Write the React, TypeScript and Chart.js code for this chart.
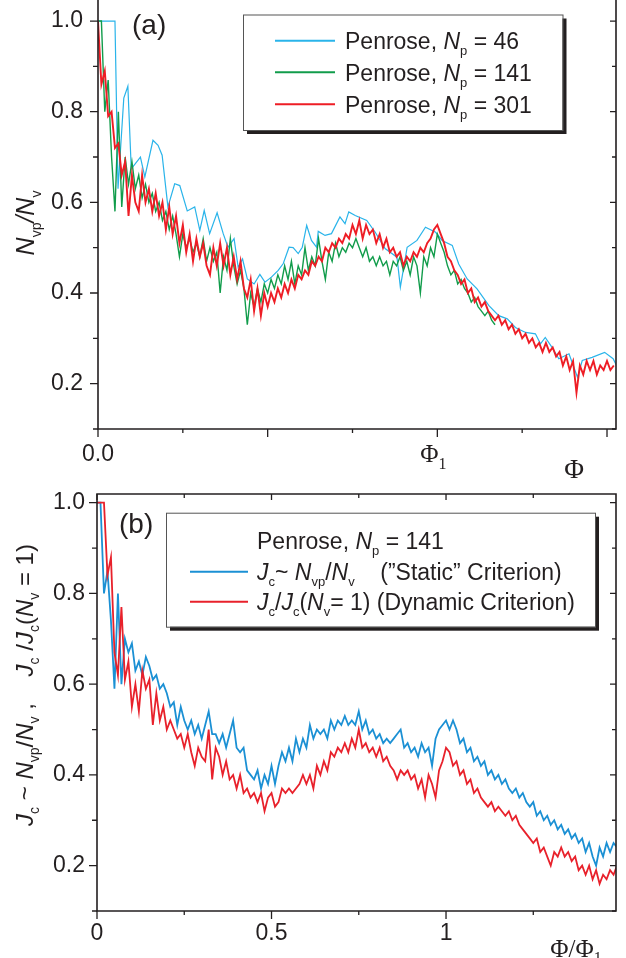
import React, { useEffect, useRef } from 'react';
import { Chart, registerables } from 'chart.js';

Chart.register(...registerables);

// ---------------- data ----------------
const STEP = 0.01; // sampling grid of the dense series (in units of Phi/Phi1)

// Panel (a): N_vp/N_v vs Phi
const redA_301 = [
  1.0, 0.86, 0.89, 0.79, 0.80, 0.72, 0.73, 0.66, 0.69, 0.57,
  0.66, 0.60, 0.58, 0.66, 0.60, 0.63, 0.58, 0.62, 0.57, 0.60,
  0.54, 0.59, 0.53, 0.57, 0.51, 0.55, 0.49, 0.53, 0.47, 0.52,
  0.48, 0.51, 0.46, 0.44, 0.50, 0.46, 0.51, 0.46, 0.50, 0.44,
  0.48, 0.43, 0.47, 0.41, 0.39, 0.43, 0.36, 0.41, 0.35, 0.40,
  0.37, 0.40, 0.38, 0.41, 0.39, 0.42, 0.40, 0.43, 0.41, 0.44,
  0.43, 0.45, 0.44, 0.47, 0.46, 0.48, 0.47, 0.50, 0.49, 0.51,
  0.50, 0.52, 0.51, 0.53, 0.52, 0.55, 0.53, 0.56, 0.52, 0.55,
  0.53, 0.54, 0.51, 0.53, 0.50, 0.52, 0.49, 0.50, 0.48, 0.49,
  0.46, 0.48, 0.47, 0.49, 0.48, 0.50, 0.49, 0.51, 0.52, 0.54,
  0.55, 0.53, 0.51, 0.48, 0.47, 0.45, 0.44, 0.42, 0.43, 0.40,
  0.41, 0.38, 0.39, 0.37, 0.38, 0.36, 0.35, 0.34, 0.35, 0.33,
  0.34, 0.32, 0.33, 0.31, 0.32, 0.30, 0.31, 0.29, 0.30, 0.28,
  0.29, 0.27, 0.29, 0.27, 0.28, 0.26, 0.27, 0.24, 0.26, 0.23,
  0.25, 0.18, 0.24, 0.22, 0.25, 0.23, 0.25, 0.22, 0.24, 0.23,
  0.25, 0.23, 0.24,
];

const greenA_141 = [
  1.0, 1.0, 0.80, 0.87, 0.70, 0.58, 0.80, 0.59, 0.70, 0.64,
  0.69, 0.63, 0.66, 0.61, 0.64, 0.60, 0.62, 0.58, 0.60, 0.56,
  0.58, 0.54, 0.57, 0.53, 0.48, 0.53, 0.50, 0.52, 0.49, 0.51,
  0.48, 0.52, 0.47, 0.50, 0.47, 0.49, 0.40, 0.48, 0.45, 0.52,
  0.46, 0.42, 0.45, 0.41, 0.33, 0.40, 0.37, 0.41, 0.38, 0.42,
  0.40, 0.43, 0.41, 0.44, 0.42, 0.46, 0.43, 0.47, 0.42, 0.46,
  0.44, 0.50, 0.45, 0.48, 0.46, 0.52, 0.47, 0.43, 0.49, 0.47,
  0.51, 0.48, 0.50, 0.49, 0.51, 0.50, 0.52, 0.50, 0.48, 0.50,
  0.47, 0.48, 0.46, 0.48, 0.46, 0.47, 0.44, 0.47, 0.46, 0.48,
  0.45, 0.47, 0.44, 0.48, 0.46, 0.40, 0.48, 0.46, 0.50, 0.48,
  0.53, 0.51, 0.49, 0.46, 0.44, 0.45, 0.42, 0.43, 0.41, 0.40,
  0.38, 0.39, 0.37, 0.36, 0.35, 0.36, 0.34, 0.33,
];

const blueA_46_phi = [
  0, 0.05, 0.059, 0.076, 0.088, 0.098, 0.125, 0.138, 0.162, 0.177,
  0.189, 0.206, 0.226, 0.241, 0.263, 0.285, 0.300, 0.313, 0.329, 0.351,
  0.369, 0.383, 0.401, 0.413, 0.426, 0.440, 0.460, 0.477, 0.492, 0.511,
  0.531, 0.546, 0.563, 0.575, 0.590, 0.602, 0.615, 0.629, 0.644, 0.649,
  0.669, 0.688, 0.713, 0.728, 0.739, 0.758, 0.792, 0.817, 0.846, 0.881,
  0.891, 0.911, 0.940, 0.965, 0.995, 1.014, 1.044, 1.063, 1.088, 1.117,
  1.152, 1.181, 1.206, 1.230, 1.260, 1.289, 1.304, 1.318, 1.338, 1.358,
  1.388, 1.413, 1.427, 1.456, 1.493, 1.518, 1.531,
];
const blueA_46 = [
  1.0, 1.0, 0.63, 0.83, 0.856, 0.674, 0.70, 0.656, 0.737, 0.726,
  0.704, 0.59, 0.641, 0.637, 0.581, 0.59, 0.538, 0.582, 0.531, 0.577,
  0.531, 0.501, 0.52, 0.457, 0.475, 0.431, 0.42, 0.441, 0.424, 0.435,
  0.45, 0.465, 0.501, 0.50, 0.487, 0.501, 0.549, 0.516, 0.501, 0.536,
  0.527, 0.531, 0.568, 0.553, 0.579, 0.571, 0.56, 0.534, 0.498, 0.479,
  0.413, 0.501, 0.516, 0.545, 0.534, 0.516, 0.505, 0.464, 0.431, 0.409,
  0.372, 0.35, 0.343, 0.324, 0.313, 0.31, 0.288, 0.302, 0.28, 0.255,
  0.266, 0.214, 0.251, 0.258, 0.269, 0.255, 0.236,
];

// Panel (b): J_c estimates vs Phi/Phi1, Penrose N_p = 141
const blueB_static = [
  1.0, 1.0, 0.80, 0.85, 0.74, 0.59, 0.80, 0.60, 0.70, 0.67,
  0.69, 0.63, 0.65, 0.62, 0.66, 0.64, 0.61, 0.62, 0.59, 0.60,
  0.58, 0.55, 0.56, 0.51, 0.55, 0.52, 0.50, 0.52, 0.49, 0.51,
  0.48, 0.51, 0.54, 0.49, 0.49, 0.47, 0.49, 0.46, 0.49, 0.52,
  0.46, 0.45, 0.46, 0.41, 0.40, 0.39, 0.41, 0.37, 0.40, 0.38,
  0.42, 0.38, 0.42, 0.45, 0.43, 0.46, 0.43, 0.48, 0.45, 0.48,
  0.46, 0.51, 0.48, 0.50, 0.49, 0.50, 0.48, 0.52, 0.50, 0.52,
  0.51, 0.53, 0.51, 0.52, 0.51, 0.54, 0.50, 0.52, 0.49, 0.50,
  0.48, 0.49, 0.47, 0.48, 0.47, 0.48, 0.49, 0.50, 0.46, 0.47,
  0.45, 0.46, 0.44, 0.47, 0.45, 0.46, 0.42, 0.48, 0.50, 0.51,
  0.52, 0.50, 0.52, 0.50, 0.47, 0.48, 0.45, 0.46, 0.43, 0.44,
  0.42, 0.43, 0.40, 0.41, 0.39, 0.40, 0.38, 0.39, 0.37, 0.36,
  0.37, 0.35, 0.36, 0.34, 0.33, 0.34, 0.31, 0.32, 0.30, 0.31,
  0.29, 0.30, 0.28, 0.29, 0.27, 0.28, 0.26, 0.27, 0.25, 0.26,
  0.23, 0.25, 0.22, 0.20, 0.24, 0.22, 0.25, 0.23, 0.25, 0.24,
];

const redB_dynamic = [
  1.0, 1.0, 1.0, 0.84, 0.88, 0.67, 0.62, 0.77, 0.61, 0.65,
  0.55, 0.60, 0.54, 0.63, 0.59, 0.61, 0.51, 0.58, 0.52, 0.55,
  0.50, 0.52, 0.50, 0.48, 0.49, 0.46, 0.49, 0.45, 0.42, 0.46,
  0.44, 0.43, 0.50, 0.39, 0.46, 0.44, 0.40, 0.43, 0.39, 0.40,
  0.37, 0.40, 0.36, 0.37, 0.35, 0.36, 0.34, 0.36, 0.32, 0.35,
  0.36, 0.33, 0.34, 0.37, 0.36, 0.37, 0.36, 0.37, 0.38, 0.40,
  0.38, 0.40, 0.37, 0.42, 0.40, 0.43, 0.41, 0.45, 0.44, 0.46,
  0.45, 0.47, 0.45, 0.48, 0.46, 0.50, 0.46, 0.47, 0.45, 0.46,
  0.44, 0.46, 0.43, 0.44, 0.42, 0.41, 0.39, 0.41, 0.40, 0.41,
  0.39, 0.40, 0.37, 0.39, 0.35, 0.40, 0.38, 0.35, 0.41, 0.43,
  0.46, 0.45, 0.42, 0.43, 0.40, 0.41, 0.38, 0.39, 0.36, 0.37,
  0.35, 0.34, 0.33, 0.34, 0.32, 0.33, 0.32, 0.31, 0.32, 0.30,
  0.31, 0.29, 0.28, 0.27, 0.26, 0.25, 0.26, 0.23, 0.24, 0.22,
  0.20, 0.23, 0.22, 0.24, 0.22, 0.23, 0.21, 0.22, 0.19, 0.20,
  0.18, 0.20, 0.17, 0.19, 0.16, 0.18, 0.17, 0.19, 0.18, 0.20,
];

// ticks
const Y_TICKS = [0.1, 0.2, 0.3, 0.4, 0.5, 0.6, 0.7, 0.8, 0.9, 1.0];
const Y_LABELS: Record<string, string> = { '0.2': '0.2', '0.4': '0.4', '0.6': '0.6', '0.8': '0.8', '1': '1.0' };
const X_TICKS_A = [0, 0.25, 0.5, 0.75, 1, 1.25, 1.5];
const X_LABELS_A: Record<string, string> = { '0': '0.0' };
const X_TICKS_B = [0, 0.25, 0.5, 0.75, 1, 1.25];
const X_LABELS_B: Record<string, string> = { '0': '0', '0.5': '0.5', '1': '1' };

// ---------------- style ----------------
const SANS = '"Liberation Sans", Arial, Helvetica, sans-serif';
const SERIF = '"Liberation Serif", "Times New Roman", serif';
const INK = '#231f20';

type Seg = { t: string; i?: boolean; s?: boolean };

const LEGEND_A: Seg[][] = [
  [{ t: 'Penrose, ' }, { t: 'N', i: true }, { t: 'p', s: true }, { t: ' = 46' }],
  [{ t: 'Penrose, ' }, { t: 'N', i: true }, { t: 'p', s: true }, { t: ' = 141' }],
  [{ t: 'Penrose, ' }, { t: 'N', i: true }, { t: 'p', s: true }, { t: ' = 301' }],
];
const LEGEND_B_TITLE: Seg[] = [{ t: 'Penrose, ' }, { t: 'N', i: true }, { t: 'p', s: true }, { t: ' = 141' }];
const LEGEND_B: Seg[][] = [
  [{ t: 'J', i: true }, { t: 'c', s: true }, { t: '~ ' }, { t: 'N', i: true }, { t: 'vp', s: true }, { t: '/' }, { t: 'N', i: true }, { t: 'v', s: true }, { t: '    (\u201DStatic\u201D Criterion)' }],
  [{ t: 'J', i: true }, { t: 'c', s: true }, { t: '/' }, { t: 'J', i: true }, { t: 'c', s: true }, { t: '(' }, { t: 'N', i: true }, { t: 'v', s: true }, { t: '= 1) (Dynamic Criterion)' }],
];
const YTITLE_A: Seg[] = [{ t: 'N', i: true }, { t: 'vp', s: true }, { t: '/', i: true }, { t: 'N', i: true }, { t: 'v', s: true }];
const YTITLE_B: Seg[] = [
  { t: 'J', i: true }, { t: 'c', s: true }, { t: ' ~ ' }, { t: 'N', i: true }, { t: 'vp', s: true }, { t: '/' }, { t: 'N', i: true }, { t: 'v', s: true },
  { t: ' ,    ' }, { t: 'J', i: true }, { t: 'c', s: true }, { t: ' /' }, { t: 'J', i: true }, { t: 'c', s: true }, { t: '(' }, { t: 'N', i: true }, { t: 'v', s: true }, { t: ' = 1)' },
];

function drawRich(ctx: CanvasRenderingContext2D, segs: Seg[], x: number, y: number, size: number, family: string, align: 'left' | 'center' = 'left', subRatio = 0.58) {
  const sub = Math.round(size * subRatio);
  const fonts = segs.map((g) => `${g.i ? 'italic ' : ''}${g.s ? sub : size}px ${family}`);
  let total = 0;
  const widths = segs.map((g, k) => {
    ctx.font = fonts[k];
    const w = ctx.measureText(g.t).width;
    total += w;
    return w;
  });
  let cx = align === 'center' ? x - total / 2 : x;
  ctx.textAlign = 'left';
  ctx.textBaseline = 'alphabetic';
  segs.forEach((g, k) => {
    ctx.font = fonts[k];
    ctx.fillText(g.t, cx, g.s ? y + size * 0.27 : y);
    cx += widths[k];
  });
}

function drawFrame(chart: any, withTop: boolean) {
  const { ctx, chartArea: a, scales } = chart;
  const xs = scales.x, ys = scales.y;
  ctx.save();
  ctx.strokeStyle = INK;
  ctx.lineWidth = 1.6;
  ctx.beginPath();
  if (withTop) {
    ctx.rect(a.left, a.top, a.right - a.left, a.bottom - a.top);
  } else {
    ctx.moveTo(a.left, a.top);
    ctx.lineTo(a.left, a.bottom);
    ctx.lineTo(a.right, a.bottom);
    ctx.lineTo(a.right, a.top);
  }
  ctx.stroke();
  ctx.lineWidth = 1.3;
  for (const t of ys.ticks) {
    const py = ys.getPixelForValue(t.value);
    const major = Math.round(t.value * 10) % 2 === 0;
    ctx.beginPath();
    ctx.moveTo(a.left - (major ? 8 : 5), py);
    ctx.lineTo(a.left, py);
    ctx.moveTo(a.right - (major ? 6 : 4), py);
    ctx.lineTo(a.right, py);
    ctx.stroke();
  }
  for (const t of xs.ticks) {
    const px = xs.getPixelForValue(t.value);
    const major = Math.round(t.value * 100) % 50 === 0;
    ctx.beginPath();
    ctx.moveTo(px, a.bottom);
    ctx.lineTo(px, a.bottom + (major ? 8 : 4));
    if (withTop) {
      ctx.moveTo(px, a.top);
      ctx.lineTo(px, a.top + (major ? 6 : 4));
    }
    ctx.stroke();
  }
  ctx.restore();
}

function drawLegendBox(ctx: CanvasRenderingContext2D, l: number, t: number, r: number, b: number) {
  ctx.fillStyle = INK;
  ctx.fillRect(l + 4, t + 4, r - l, b - t);
  ctx.fillStyle = '#ffffff';
  ctx.fillRect(l, t, r - l, b - t);
  ctx.strokeStyle = '#555555';
  ctx.lineWidth = 1;
  ctx.strokeRect(l + 0.5, t + 0.5, r - l, b - t);
}

function legendLine(ctx: CanvasRenderingContext2D, color: string, x0: number, x1: number, y: number) {
  ctx.strokeStyle = color;
  ctx.lineWidth = 2;
  ctx.beginPath();
  ctx.moveTo(x0, y);
  ctx.lineTo(x1, y);
  ctx.stroke();
}

function makeScales(opts: {
  xMax: number; yMax: number; yWidth: number; xHeight: number; xTicks: number[]; xLabels: Record<string, string>; xPad: number; yPad: number;
}) {
  return {
    x: {
      type: 'linear',
      min: 0,
      max: opts.xMax,
      afterBuildTicks: (s: any) => { s.ticks = opts.xTicks.map((v) => ({ value: v })); },
      afterFit: (s: any) => { s.height = opts.xHeight; s.paddingLeft = 0; s.paddingRight = 0; },
      grid: { display: false, drawTicks: false },
      border: { display: false },
      ticks: {
        autoSkip: false, maxRotation: 0, minRotation: 0, padding: opts.xPad, color: INK,
        font: { family: SANS, size: 23 },
        callback: (v: number) => opts.xLabels[String(v)] ?? '',
      },
    },
    y: {
      type: 'linear',
      min: 0.1,
      max: opts.yMax,
      afterBuildTicks: (s: any) => { s.ticks = Y_TICKS.map((v) => ({ value: v })); },
      afterFit: (s: any) => { s.width = opts.yWidth; s.paddingTop = 0; s.paddingBottom = 0; },
      grid: { display: false, drawTicks: false },
      border: { display: false },
      ticks: {
        autoSkip: false, padding: opts.yPad, color: INK,
        font: { family: SANS, size: 23 },
        callback: (v: number) => Y_LABELS[String(Math.round(v * 10) / 10)] ?? '',
      },
    },
  };
}

const grid = (vals: number[]) => vals.map((v, k) => ({ x: Math.round(k * STEP * 100) / 100, y: v }));

function configA(): any {
  return {
    type: 'line',
    data: {
      datasets: [
        { label: 'Penrose, Np = 46', data: blueA_46.map((v, k) => ({ x: blueA_46_phi[k], y: v })), borderColor: '#2ab4ea', borderWidth: 1.2, order: 3 },
        { label: 'Penrose, Np = 141', data: grid(greenA_141), borderColor: '#119c4b', borderWidth: 1.4, order: 2 },
        { label: 'Penrose, Np = 301', data: grid(redA_301), borderColor: '#ee1d25', borderWidth: 1.9, order: 1 },
      ],
    },
    options: {
      responsive: false,
      animation: false,
      devicePixelRatio: 1,
      events: [],
      layout: { padding: { left: 0, right: 10, top: 0, bottom: 0 } },
      elements: { point: { radius: 0 }, line: { tension: 0, fill: false } },
      plugins: { legend: { display: false }, tooltip: { enabled: false } },
      scales: makeScales({ xMax: 1.5265, yMax: 1.0464, yWidth: 98, xHeight: 51, xTicks: X_TICKS_A, xLabels: X_LABELS_A, xPad: 12, yPad: 15 }),
    },
    plugins: [
      {
        id: 'decorA',
        afterDraw(chart: any) {
          const ctx: CanvasRenderingContext2D = chart.ctx;
          drawFrame(chart, false);
          ctx.save();
          ctx.fillStyle = INK;
          ctx.font = `28px ${SANS}`;
          ctx.textBaseline = 'alphabetic';
          ctx.fillText('(a)', 132, 34);
          const p1 = chart.scales.x.getPixelForValue(1);
          drawRich(ctx, [{ t: '\u03A6' }, { t: '1', s: true }], p1 - 4, 462, 25, SERIF, 'center', 0.62);
          drawRich(ctx, [{ t: '\u03A6' }], 574, 478, 27, SERIF, 'center');
          ctx.save();
          ctx.translate(34, 223);
          ctx.rotate(-Math.PI / 2);
          drawRich(ctx, YTITLE_A, 0, 0, 25, SANS, 'center');
          ctx.restore();
          drawLegendBox(ctx, 243, 14.5, 562.5, 130);
          const rowsY = [40.7, 72.3, 104.3];
          [0, 1, 2].forEach((di, r) => {
            legendLine(ctx, chart.data.datasets[di].borderColor, 275, 335, rowsY[r]);
            ctx.fillStyle = INK;
            drawRich(ctx, LEGEND_A[r], 345, rowsY[r] + 8.5, 23, SANS);
          });
          ctx.restore();
        },
      },
    ],
  };
}

function configB(): any {
  return {
    type: 'line',
    data: {
      datasets: [
        { label: 'Jc ~ Nvp/Nv ("Static" Criterion)', data: grid(blueB_static), borderColor: '#1b90d4', borderWidth: 1.8, order: 2 },
        { label: 'Jc/Jc(Nv = 1) (Dynamic Criterion)', data: grid(redB_dynamic), borderColor: '#e8212b', borderWidth: 1.8, order: 1 },
      ],
    },
    options: {
      responsive: false,
      animation: false,
      devicePixelRatio: 1,
      events: [],
      layout: { padding: { left: 0, right: 10, top: 14, bottom: 0 } },
      elements: { point: { radius: 0 }, line: { tension: 0, fill: false } },
      plugins: { legend: { display: false }, tooltip: { enabled: false } },
      scales: makeScales({ xMax: 1.487, yMax: 1.0192, yWidth: 97, xHeight: 47, xTicks: X_TICKS_B, xLabels: X_LABELS_B, xPad: 9, yPad: 12 }),
    },
    plugins: [
      {
        id: 'decorB',
        afterDraw(chart: any) {
          const ctx: CanvasRenderingContext2D = chart.ctx;
          drawFrame(chart, true);
          ctx.save();
          ctx.fillStyle = INK;
          ctx.font = `28px ${SANS}`;
          ctx.textBaseline = 'alphabetic';
          ctx.fillText('(b)', 119, 53);
          drawRich(ctx, [{ t: '\u03A6/\u03A6' }, { t: '1', s: true }], 576, 476.5, 25, SERIF, 'center', 0.62);
          ctx.save();
          ctx.translate(33, 205);
          ctx.rotate(-Math.PI / 2);
          drawRich(ctx, YTITLE_B, 0, 0, 24, SANS, 'center');
          ctx.restore();
          drawLegendBox(ctx, 166, 32.7, 595, 146.7);
          ctx.fillStyle = INK;
          drawRich(ctx, LEGEND_B_TITLE, 257, 68.5, 23, SANS);
          const rowsY = [91.7, 121.7];
          [0, 1].forEach((di, r) => {
            legendLine(ctx, chart.data.datasets[di].borderColor, 190, 248, rowsY[r]);
            ctx.fillStyle = INK;
            drawRich(ctx, LEGEND_B[r], 257, rowsY[r] + 8.5, 23, SANS);
          });
          ctx.restore();
        },
      },
    ],
  };
}

export default function App() {
  const refA = useRef<HTMLCanvasElement>(null);
  const refB = useRef<HTMLCanvasElement>(null);
  useEffect(() => {
    const a = new Chart(refA.current as HTMLCanvasElement, configA());
    const b = new Chart(refB.current as HTMLCanvasElement, configB());
    return () => {
      a.destroy();
      b.destroy();
    };
  }, []);
  return (
    <div style={{ position: 'absolute', left: 0, top: 0, width: 626, height: 958, background: '#ffffff', overflow: 'hidden' }}>
      <canvas ref={refA} width={626} height={480} style={{ position: 'absolute', left: 0, top: 0, width: 626, height: 480, display: 'block' }} />
      <canvas ref={refB} width={626} height={478} style={{ position: 'absolute', left: 0, top: 480, width: 626, height: 478, display: 'block' }} />
    </div>
  );
}
